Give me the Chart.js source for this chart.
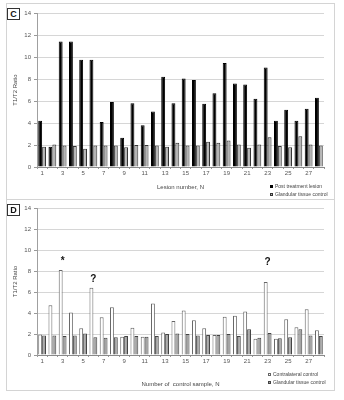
<!DOCTYPE html>
<html>
<head>
<meta charset="utf-8">
<script src="https://cdn.jsdelivr.net/npm/chart.js@4/dist/chart.umd.min.js"></script>
<style>
  body { margin: 0; background: #fff; font-family: "Liberation Sans", Arial, sans-serif; }
  .panel { position: absolute; left: 6px; width: 329px; box-sizing: border-box; border: 1px solid #d4d4d4; background: #fff; }
  .tag { position: absolute; width: 13px; height: 12px; box-sizing: border-box; border: 1px solid #333; background: #fff;
         font: bold 9px "Liberation Sans", Arial, sans-serif; text-align: center; line-height: 10px; color: #111; }
  .legend { position: absolute; font: 5px "Liberation Sans", Arial, sans-serif; color: #444; line-height: 8px; white-space: nowrap; }
  .mk { display: inline-block; width: 3px; height: 3px; box-sizing: border-box; margin-right: 2px; vertical-align: 0; }
</style>
</head>
<body>
<div class="panel" id="panelC" style="top:3px;height:197px"><canvas id="chartC"></canvas></div>
<div class="panel" id="panelD" style="top:199px;height:192px"><canvas id="chartD"></canvas></div>

<div class="tag" style="left:7px;top:8px">C</div>
<div class="tag" style="left:7px;top:204px">D</div>

<div class="legend" style="left:270px;top:182px">
  <div><span class="mk" style="background:#000;border:1px solid #000"></span>Post treatment lesion</div>
  <div><span class="mk" style="background:#b4b4b4;border:1px solid #333"></span>Glandular tissue control</div>
</div>
<div class="legend" style="left:268px;top:370px">
  <div><span class="mk" style="background:#fff;border:1px solid #666"></span>Contralateral control</div>
  <div><span class="mk" style="background:#a4a4a4;border:1px solid #444"></span>Glandular tissue control</div>
</div>

<script>
// ===== data =====
const sampleLabels = ['1','2','3','4','5','6','7','8','9','10','11','12','13','14',
                      '15','16','17','18','19','20','21','22','23','24','25','26','27','28'];
const yTicks = [0, 2, 4, 6, 8, 10, 12, 14];

// panel C: lesions
const postTreatment = [4.2, 1.85, 11.4, 11.4, 9.75, 9.75, 4.1, 5.9, 2.65, 5.8, 3.8, 5.05, 8.2, 5.8,
                       8.05, 7.9, 5.75, 6.7, 9.45, 7.6, 7.5, 6.2, 9.05, 4.2, 5.2, 4.2, 5.3, 6.3];
const glandularC = [1.85, 2.05, 1.95, 1.9, 1.65, 1.95, 1.95, 1.95, 1.8, 2.0, 2.0, 1.95, 1.85, 2.2,
                    1.95, 1.95, 2.3, 2.2, 2.4, 2.05, 1.75, 2.05, 2.7, 1.9, 1.8, 2.8, 2.05, 1.95];

// panel D: controls
const contralateral = [1.95, 4.75, 8.1, 4.05, 2.55, 6.4, 3.6, 4.55, 1.75, 2.6, 1.75, 4.9, 2.15, 3.25,
                       4.25, 3.3, 2.55, 1.9, 3.65, 3.75, 4.15, 1.55, 6.95, 1.55, 3.4, 2.65, 4.35, 2.35];
const glandularD = [1.85, 1.85, 1.8, 1.85, 2.05, 1.7, 1.65, 1.7, 1.8, 1.8, 1.75, 1.8, 2.0, 2.05,
                    2.0, 1.85, 1.9, 1.9, 2.0, 1.8, 2.45, 1.65, 2.1, 1.6, 1.7, 2.45, 1.85, 1.8];

// marks above some bars in D
const noteIdx = [2, 5, 22];
const noteTxt = ['*', '?', '?'];
const noteAt = [8.9, 7.2, 8.8];

const FONT = '"Liberation Sans", Arial, sans-serif';

// draws the * / ? marks over the category
const notesPlugin = {
    id: 'notes',
    afterDatasetsDraw(chart) {
        const { ctx, scales: { x, y } } = chart;
        ctx.save();
        ctx.font = 'bold 10px ' + FONT;
        ctx.fillStyle = '#111';
        ctx.textAlign = 'center';
        ctx.textBaseline = 'middle';
        noteIdx.forEach((idx, i) => ctx.fillText(noteTxt[i], x.getPixelForValue(idx), y.getPixelForValue(noteAt[i])));
        ctx.restore();
    }
};

function makeChart(id, sets, xTitle, xHeight, padTop, titlePad, plugins) {
    return new Chart(document.getElementById(id), {
        type: 'bar',
        data: {
            labels: sampleLabels,
            datasets: sets.map(s => ({
                label: s.label,
                data: s.data,
                backgroundColor: s.fill,
                borderColor: s.line,
                borderWidth: 1,
                categoryPercentage: 0.76,
                barPercentage: 1
            }))
        },
        options: {
            responsive: true,
            maintainAspectRatio: false,
            animation: false,
            layout: { padding: { top: padTop, right: 10, left: 0, bottom: 0 } },
            plugins: { legend: { display: false }, tooltip: { enabled: false } },
            scales: {
                x: {
                    grid: { drawOnChartArea: false, tickLength: 2, color: '#999' },
                    border: { color: '#8a8a8a' },
                    ticks: {
                        autoSkip: false, maxRotation: 0, padding: 1,
                        font: { size: 6, family: FONT }, color: '#555',
                        callback: (v, i) => i % 2 === 0 ? sampleLabels[i] : ''
                    },
                    title: { display: true, text: xTitle, font: { size: 6, family: FONT }, color: '#444',
                             padding: { top: 0, bottom: titlePad } },
                    afterFit: a => { a.height = xHeight; }
                },
                y: {
                    min: 0, max: 14,
                    afterBuildTicks: a => { a.ticks = yTicks.map(v => ({ value: v })); },
                    grid: { color: '#d6d6d6', tickLength: 3, tickColor: '#999' },
                    border: { color: '#a0a0a0' },
                    ticks: { padding: 3, font: { size: 6, family: FONT }, color: '#555' },
                    title: { display: true, text: 'T1/T2 Ratio', font: { size: 6, family: FONT }, color: '#444',
                             padding: { top: 5, bottom: 0 } },
                    afterFit: a => { a.width = 30; }
                }
            }
        },
        plugins: plugins || []
    });
}

makeChart('chartC', [
    { label: 'Post treatment lesion', data: postTreatment, fill: '#000', line: '#000' },
    { label: 'Glandular tissue control', data: glandularC, fill: '#b4b4b4', line: '#333' }
], 'Lesion number, N', 32, 9, 8);

makeChart('chartD', [
    { label: 'Contralateral control', data: contralateral, fill: '#fff', line: '#666' },
    { label: 'Glandular tissue control', data: glandularD, fill: '#a4a4a4', line: '#444' }
], 'Number of  control sample, N', 35, 8, 2, [notesPlugin]);
</script>
</body>
</html>
